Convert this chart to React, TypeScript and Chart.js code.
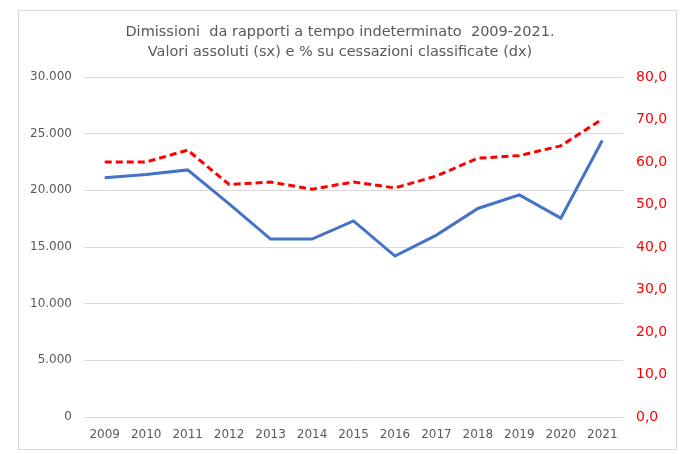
import React, { useEffect, useRef } from "react";
import { Chart, registerables } from "chart.js";

Chart.register(...registerables);

const years = ["2009", "2010", "2011", "2012", "2013", "2014", "2015", "2016", "2017", "2018", "2019", "2020", "2021"];
const dimissioni = [21100, 21400, 21800, 18800, 15700, 15700, 17300, 14200, 16050, 18400, 19600, 17550, 24400];
const percentuale = [60.0, 60.0, 62.8, 54.7, 55.3, 53.6, 55.3, 53.9, 56.7, 60.9, 61.5, 63.8, 70.1];
const titleLines = [
  "Dimissioni  da rapporti a tempo indeterminato  2009-2021.",
  "Valori assoluti (sx) e % su cessazioni classificate (dx)",
];

const FONT = "'DejaVu Sans', Verdana, sans-serif";

export default function App() {
  const ref = useRef<HTMLCanvasElement | null>(null);

  useEffect(() => {
    if (!ref.current) return;
    const chart = new Chart(ref.current, {
      type: "line",
      data: {
        labels: years,
        datasets: [
          {
            label: "Dimissioni",
            data: dimissioni,
            borderColor: "#4472C4",
            backgroundColor: "#4472C4",
            borderWidth: 3,
            pointRadius: 0,
            tension: 0,
            yAxisID: "y",
          },
          {
            label: "% su cessazioni",
            data: percentuale,
            borderColor: "#FF0000",
            backgroundColor: "#FF0000",
            borderWidth: 3,
            borderDash: [7, 4],
            pointRadius: 0,
            tension: 0,
            yAxisID: "y1",
          },
        ],
      },
      options: {
        animation: false,
        responsive: true,
        maintainAspectRatio: false,
        layout: { padding: 0 },
        plugins: {
          legend: { display: false },
          tooltip: { enabled: false },
          title: {
            display: true,
            text: titleLines,
            color: "#595959",
            font: { family: FONT, size: 14.5, weight: "normal", lineHeight: 20 / 14.5 },
            padding: { top: 22, bottom: 15 },
          },
        },
        scales: {
          x: {
            offset: true,
            grid: { display: false, drawTicks: false },
            border: { display: false },
            ticks: {
              color: "#595959",
              font: { family: FONT, size: 12 },
              padding: 11,
              maxRotation: 0,
              autoSkip: false,
            },
            afterFit: (s: any) => {
              s.height = 37;
            },
          },
          y: {
            position: "left",
            min: 0,
            max: 30000,
            grid: { color: "#d9d9d9", lineWidth: 1, drawTicks: false },
            border: { display: false },
            ticks: {
              stepSize: 5000,
              color: "#595959",
              font: { family: FONT, size: 12 },
              padding: 12,
              callback: (v: any) => Number(v).toLocaleString("it-IT"),
            },
            afterFit: (s: any) => {
              s.width = 84;
            },
          },
          y1: {
            position: "right",
            min: 0,
            max: 80,
            grid: { display: false, drawTicks: false },
            border: { display: false },
            ticks: {
              stepSize: 10,
              color: "#FF0000",
              font: { family: FONT, size: 14 },
              padding: 13,
              callback: (v: any) => Number(v).toFixed(1).replace(".", ","),
            },
            afterFit: (s: any) => {
              s.width = 57;
            },
          },
        },
      },
    });
    return () => chart.destroy();
  }, []);

  return (
    <div style={{ position: "absolute", left: 0, top: 0, width: 680, height: 454, background: "#fff" }}>
      <div
        style={{
          position: "absolute",
          left: 18,
          top: 10,
          width: 657,
          height: 438,
          border: "1px solid #d9d9d9",
        }}
      />
      <canvas ref={ref} style={{ position: "absolute", left: 0, top: 0, display: "block" }} />
    </div>
  );
}
